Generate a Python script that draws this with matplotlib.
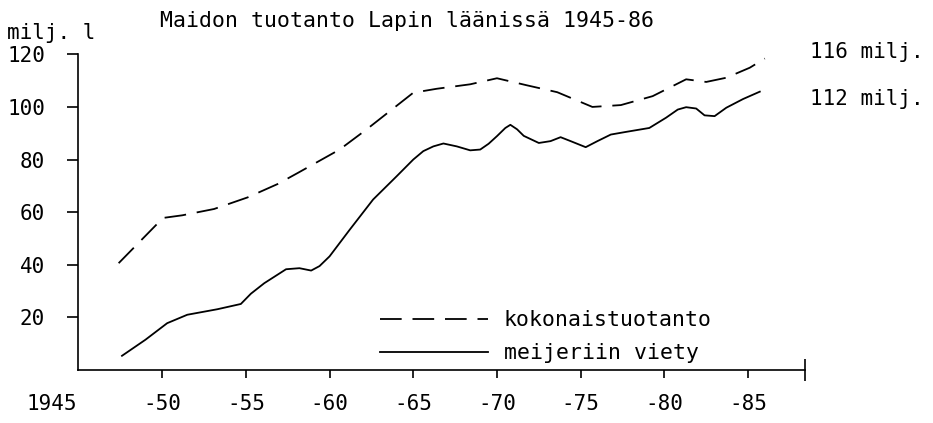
import matplotlib
matplotlib.use("Agg")
import matplotlib.pyplot as plt
from matplotlib.lines import Line2D

plt.rcParams['font.family'] = ['DejaVu Sans Mono']

# kokonaistuotanto (total production), milj. l
total_years = [1947.4, 1950.05, 1951.2, 1953.1, 1955.1, 1956.9, 1958.1, 1960.6,
               1962.2, 1965.0, 1966.4, 1968.4, 1970.0, 1971.8, 1973.6, 1975.7,
               1977.4, 1979.3, 1981.3, 1982.5, 1983.7, 1985.1, 1986.0]
total_vals = [40.6, 57.8, 58.8, 61.2, 65.6, 70.7, 74.9, 83.8,
              91.4, 105.4, 106.9, 108.6, 110.9, 108.2, 105.6, 100.0,
              100.7, 104.1, 110.5, 109.5, 111.1, 114.9, 118.4]

# meijeriin viety (delivered to dairies), milj. l
dairy_years = [1947.6, 1949.0, 1950.3, 1951.5, 1953.3, 1954.7, 1955.3, 1956.1,
               1957.4, 1958.2, 1958.9, 1959.4, 1960.0, 1961.2, 1962.6, 1964.0,
               1965.0, 1965.6, 1966.2, 1966.8, 1967.6, 1968.4, 1969.0, 1969.5,
               1970.0, 1970.5, 1970.8, 1971.2, 1971.6, 1972.5, 1973.2, 1973.8,
               1974.4, 1975.3, 1976.0, 1976.8, 1977.7, 1979.1, 1980.1, 1980.8,
               1981.3, 1981.9, 1982.4, 1983.0, 1983.7, 1984.7, 1985.7]
dairy_vals = [5.4, 11.5, 17.8, 21.0, 23.1, 25.1, 29.0, 33.0,
              38.3, 38.7, 37.8, 39.5, 43.2, 53.3, 64.8, 73.6,
              80.0, 83.2, 85.0, 86.1, 85.0, 83.5, 83.8, 86.0,
              88.9, 92.0, 93.2, 91.5, 89.0, 86.3, 87.0, 88.5,
              87.0, 84.7, 87.0, 89.5, 90.5, 92.0, 95.9, 99.0,
              99.9, 99.4, 96.8, 96.5, 99.7, 103.0, 105.8]

x_ticks = [1950, 1955, 1960, 1965, 1970, 1975, 1980, 1985]
x_labels = ['-50', '-55', '-60', '-65', '-70', '-75', '-80', '-85']
y_ticks = [20, 40, 60, 80, 100, 120]

fig = plt.figure(figsize=(9.33, 4.23), dpi=100)
ax = fig.add_axes([0.0841, 0.1253, 0.7787, 0.7463])

dash = (0, (12, 6))
ax.plot(total_years, total_vals, color='black', lw=1.3, linestyle=dash, clip_on=False)
ax.plot(dairy_years, dairy_vals, color='black', lw=1.3, clip_on=False)

ax.set_xlim(1945, 1988.4)
ax.set_ylim(0, 120)
ax.spines['top'].set_visible(False)
ax.spines['right'].set_visible(False)
ax.spines['left'].set_linewidth(1.2)
ax.spines['bottom'].set_linewidth(1.2)

ax.set_xticks(x_ticks)
ax.set_xticklabels(x_labels, fontsize=15)
ax.set_yticks(y_ticks)
ax.set_yticklabels([str(v) for v in y_ticks], fontsize=15)
ax.tick_params(axis='x', direction='out', length=6, width=1.2, pad=11)
ax.tick_params(axis='y', direction='out', length=8, width=1.2, pad=16)
# end mark of x axis
ax.set_xticks([1988.4], minor=True)
ax.tick_params(axis='x', which='minor', direction='inout', length=16, width=1.2)

ax.text(1943.4, -0.108, '1945', transform=ax.get_xaxis_transform(),
        ha='center', va='center', fontsize=15)

fig.text(0.008, 1 - 33 / 423, 'milj. l', ha='left', va='center', fontsize=15)
fig.text(407 / 933, 1 - 21 / 423, 'Maidon tuotanto Lapin läänissä 1945-86',
         ha='center', va='center', fontsize=15.5)
fig.text(810 / 933, 1 - 52 / 423, '116 milj.', ha='left', va='center', fontsize=15)
fig.text(810 / 933, 1 - 99 / 423, '112 milj.', ha='left', va='center', fontsize=15)

handles = [Line2D([], [], color='black', lw=1.3, linestyle=dash),
           Line2D([], [], color='black', lw=1.3)]
ax.legend(handles, ['kokonaistuotanto', 'meijeriin viety'],
          loc='center left', bbox_to_anchor=(0.415, 0.105), frameon=False,
          fontsize=15.5, handlelength=5.0, handletextpad=0.75,
          borderpad=0, borderaxespad=0, labelspacing=0.6)

fig.savefig('out.png', dpi=100)
